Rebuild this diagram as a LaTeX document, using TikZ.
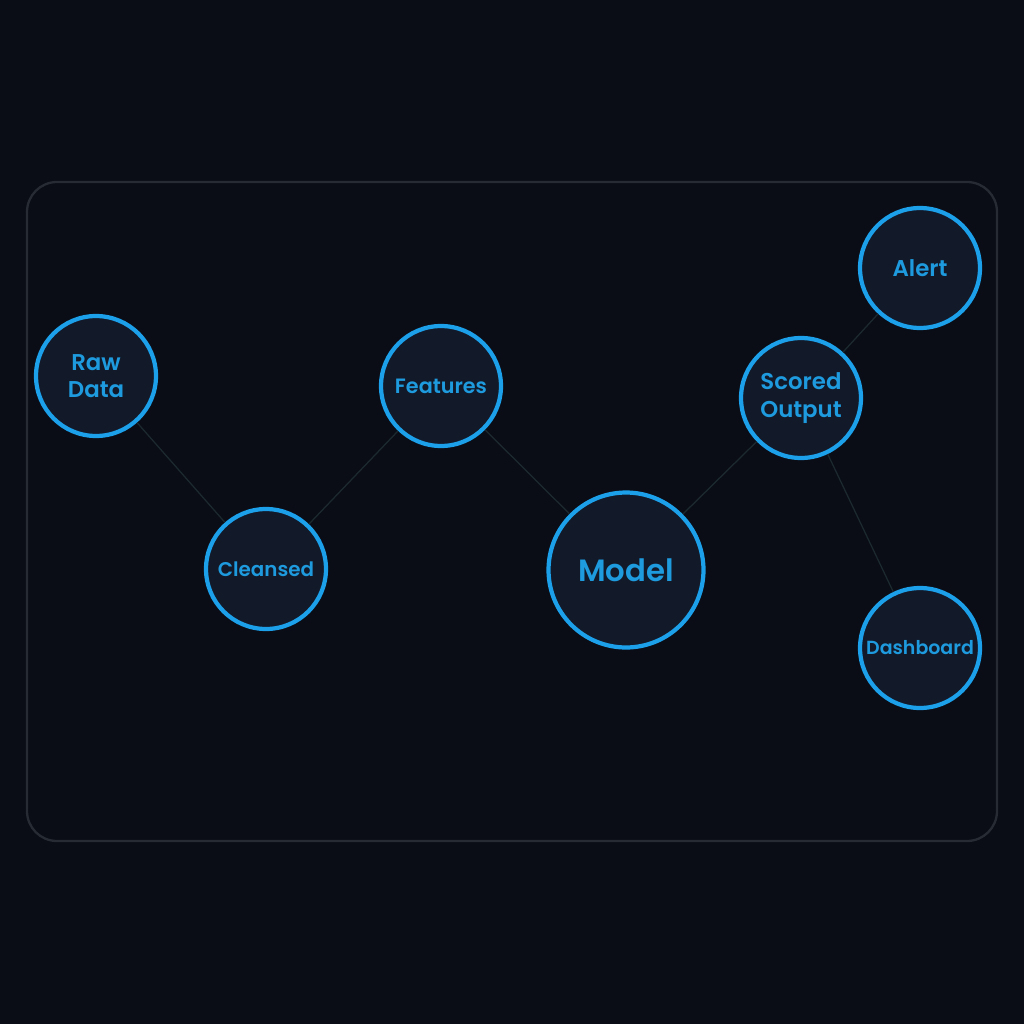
\documentclass[tikz,border=0pt]{standalone}
\usepackage{fontspec}
\setmainfont{Poppins}[BoldFont={Poppins SemiBold}]
\definecolor{bg}{HTML}{0A0D16}
\definecolor{frame}{HTML}{262B34}
\definecolor{ring}{HTML}{1CA0EA}
\definecolor{txt}{HTML}{1E9BDF}
\definecolor{nfill}{HTML}{121A2A}
\definecolor{edge}{HTML}{1C2A30}
\begin{document}
\begin{tikzpicture}[x=0.02cm,y=-0.02cm,
  nd/.style={circle,draw=ring,line width=2.4pt,fill=nfill,minimum size=2.4cm,inner sep=0pt,text=txt,font=\bfseries\fontsize{13}{15.5}\selectfont,align=center},
  big/.style={nd,minimum size=3.1cm,font=\bfseries\fontsize{17.5}{20}\selectfont},
  link/.style={draw=edge,line width=0.7pt}]
\fill[bg] (0,0) rectangle (1024,1024);
\useasboundingbox (0,0) rectangle (1024,1024);
\draw[frame,line width=1.3pt,rounded corners=0.6cm] (27,182) rectangle (997,841);
\node[nd] (raw) at (96,376) {Raw\\Data};
\node[nd,font=\bfseries\fontsize{11.3}{13}\selectfont] (cle) at (266,569) {Cleansed};
\node[nd,font=\bfseries\fontsize{11.8}{13}\selectfont] (fea) at (441,386) {Features};
\node[big] (mod) at (626,570) {Model};
\node[nd] (sco) at (801,398) {Scored\\Output};
\node[nd] (ale) at (920,268) {Alert};
\node[nd,font=\bfseries\fontsize{10.8}{12}\selectfont] (das) at (920,648) {Dashboard};
\draw[link] (raw) -- (cle);
\draw[link] (cle) -- (fea);
\draw[link] (fea) -- (mod);
\draw[link] (mod) -- (sco);
\draw[link] (sco) -- (ale);
\draw[link] (sco) -- (das);
\end{tikzpicture}
\end{document}
